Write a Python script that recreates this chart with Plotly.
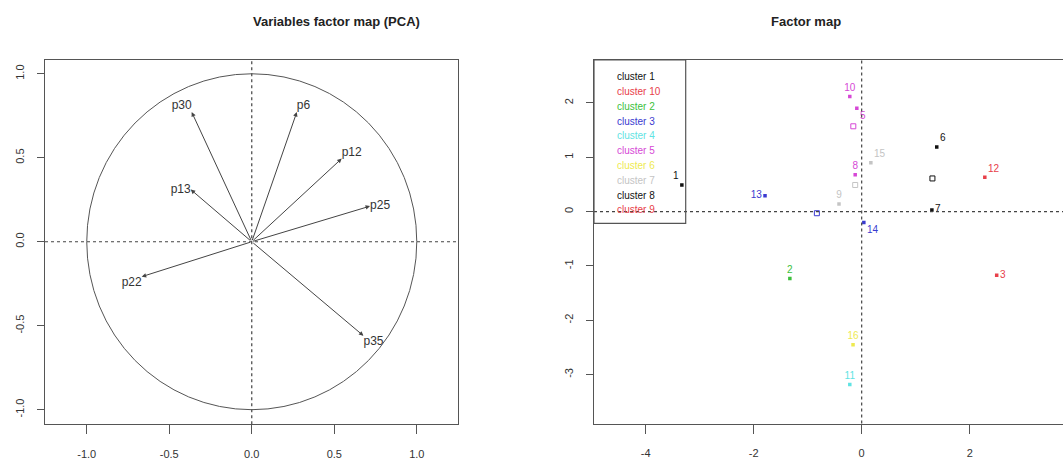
import plotly.graph_objects as go

W, H = 1063, 461

# ---------------- data: variables factor map ----------------
var_names = ["p30", "p6", "p12", "p25", "p13", "p22", "p35"]
var_x = [-0.364, 0.273, 0.545, 0.717, -0.37, -0.667, 0.677]
var_y = [0.772, 0.772, 0.495, 0.212, 0.311, -0.208, -0.56]

left_ticks = [-1.0, -0.5, 0.0, 0.5, 1.0]
left_ticktext = ["-1.0", "-0.5", "0.0", "0.5", "1.0"]

# ---------------- data: factor map (individuals) ----------------
ind_labels = ["1", "13", "14", "2", "10", "5", "8", "15", "9", "6", "7", "12", "3", "16", "11"]
ind_x = [-3.33, -1.79, 0.04, -1.33, -0.22, -0.09, -0.12, 0.17, -0.42, 1.39, 1.30, 2.28, 2.50, -0.16, -0.22]
ind_y = [0.49, 0.29, -0.20, -1.23, 2.12, 1.90, 0.68, 0.90, 0.14, 1.19, 0.03, 0.63, -1.17, -2.45, -3.18]
ind_cluster = ["cluster 1", "cluster 3", "cluster 3", "cluster 2", "cluster 5", "cluster 5",
               "cluster 5", "cluster 7", "cluster 7", "cluster 8", "cluster 8", "cluster 10",
               "cluster 9", "cluster 6", "cluster 4"]

center_x = [-0.155, 1.31, -0.83, -0.12]
center_y = [1.57, 0.61, -0.03, 0.49]
center_cluster = ["cluster 5", "cluster 8", "cluster 3", "cluster 7"]

legend_clusters = ["cluster 1", "cluster 10", "cluster 2", "cluster 3", "cluster 4",
                   "cluster 5", "cluster 6", "cluster 7", "cluster 8", "cluster 9"]

right_xticks = [-4, -2, 0, 2]
right_xticktext = ["-4", "-2", "0", "2"]
right_yticks = [-3, -2, -1, 0, 1, 2]
right_yticktext = ["-3", "-2", "-1", "0", "1", "2"]

# ---------------- styles ----------------
cluster_colors = {
    "cluster 1": "#111111", "cluster 10": "#e8404a", "cluster 2": "#3cbf3c",
    "cluster 3": "#3a3ad0", "cluster 4": "#5fe3e3", "cluster 5": "#d648d6",
    "cluster 6": "#eeea50", "cluster 7": "#c4c4c4", "cluster 8": "#111111",
    "cluster 9": "#e8404a",
}
var_textpos = ["top left", "top right", "top right", "middle right",
               "middle left", "bottom left", "bottom right"]
ind_textpos = ["top left", "middle left", "bottom right", "top center", "top center",
               "bottom right", "top center", "top right", "top center", "top right",
               "middle right", "top right", "middle right", "top center", "top center"]

FONT = "Liberation Sans, Arial, sans-serif"
AX = "#555555"
TXT = "#333333"
DASH = dict(color="#444444", width=1.2, dash="3px,3px")


def px(x):
    return x / W


def py(y):
    return 1 - y / H


fig = go.Figure()

# left: variable labels
fig.add_trace(go.Scatter(
    x=var_x, y=var_y, mode="text", text=var_names, textposition=var_textpos,
    textfont=dict(family=FONT, size=12, color=TXT), xaxis="x", yaxis="y",
    showlegend=False, hoverinfo="skip"))

# right: individuals
fig.add_trace(go.Scatter(
    x=ind_x, y=ind_y, mode="markers+text", text=ind_labels, textposition=ind_textpos,
    marker=dict(symbol="square", size=3.5, color=[cluster_colors[c] for c in ind_cluster]),
    textfont=dict(family=FONT, size=10, color=[cluster_colors[c] for c in ind_cluster]),
    xaxis="x2", yaxis="y2", showlegend=False, hoverinfo="skip"))

# right: cluster centres (hollow squares)
fig.add_trace(go.Scatter(
    x=center_x, y=center_y, mode="markers",
    marker=dict(symbol="square-open", size=5, line=dict(width=1),
                color=[cluster_colors[c] for c in center_cluster]),
    xaxis="x2", yaxis="y2", showlegend=False, hoverinfo="skip"))

annotations = []
for vx, vy in zip(var_x, var_y):
    annotations.append(dict(
        x=vx, y=vy, ax=0, ay=0, xref="x", yref="y", axref="x", ayref="y",
        text="", showarrow=True, arrowhead=2, arrowsize=0.9, arrowwidth=1,
        arrowcolor="#444444", standoff=0, startstandoff=0))

# titles
annotations.append(dict(x=px(251), y=py(21.7), xref="paper", yref="paper",
                        yanchor="middle", text="<b>Variables factor map (PCA)</b>",
                        showarrow=False, font=dict(family=FONT, size=13, color="#222222")))
annotations.append(dict(x=px(843), y=py(21.7), xref="paper", yref="paper",
                        yanchor="middle", text="<b>Factor map</b>", showarrow=False,
                        font=dict(family=FONT, size=13, color="#222222")))

# legend text
for i, name in enumerate(legend_clusters):
    annotations.append(dict(x=px(615), y=py(76.7 + i * 14.8), xref="paper", yref="paper",
                            xanchor="left", yanchor="middle", text=name, showarrow=False,
                            font=dict(family=FONT, size=10, color=cluster_colors[name])))

shapes = [
    # correlation circle
    dict(type="circle", xref="x", yref="y", x0=-1, y0=-1, x1=1, y1=1,
         line=dict(color="#555555", width=1)),
    dict(type="line", xref="x domain", yref="y", x0=0, x1=1, y0=0, y1=0, line=DASH),
    dict(type="line", xref="x", yref="y domain", x0=0, x1=0, y0=0, y1=1, line=DASH),
    dict(type="line", xref="x2 domain", yref="y2", x0=0, x1=1, y0=0, y1=0, line=DASH),
    dict(type="line", xref="x2", yref="y2 domain", x0=0, x1=0, y0=0, y1=1, line=DASH),
    # legend box
    dict(type="rect", xref="paper", yref="paper", x0=px(594), x1=px(685.7),
         y0=py(223.3), y1=py(60), line=dict(color=AX, width=1.2)),
]

axis_common = dict(showgrid=False, zeroline=False, showline=True, linecolor=AX,
                   linewidth=1.2, ticks="outside", tickcolor=AX,
                   tickfont=dict(family=FONT, size=11, color=TXT), automargin=False)
xaxis_extra = dict(ticklen=9, ticklabelstandoff=10)
yaxis_extra = dict(ticklen=7, ticklabelstandoff=9, tickangle=-90)

fig.update_layout(
    width=W, height=H, margin=dict(l=0, r=0, t=0, b=0),
    paper_bgcolor="white", plot_bgcolor="white", showlegend=False,
    xaxis=dict(domain=[px(45), px(457.7)], range=[-1.253, 1.248], anchor="y",
               tickvals=left_ticks, ticktext=left_ticktext, mirror=True,
               **axis_common, **xaxis_extra),
    yaxis=dict(domain=[py(424.3), py(60)], range=[-1.087, 1.082], anchor="x",
               tickvals=left_ticks, ticktext=left_ticktext, mirror=True,
               **axis_common, **yaxis_extra),
    xaxis2=dict(domain=[px(594), 1.0], range=[-4.957, 3.728], anchor="y2",
                tickvals=right_xticks, ticktext=right_xticktext, mirror=True,
                **axis_common, **xaxis_extra),
    yaxis2=dict(domain=[py(423.5), py(60)], range=[-3.9, 2.79], anchor="x2",
                tickvals=right_yticks, ticktext=right_yticktext,
                **axis_common, **yaxis_extra),
    annotations=annotations, shapes=shapes,
)

fig.write_html("out.html", config={"displayModeBar": False},
               post_script="document.body.style.margin='0';")
